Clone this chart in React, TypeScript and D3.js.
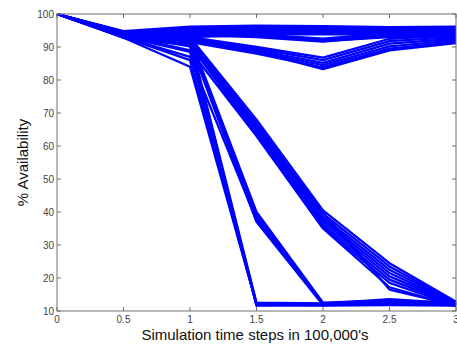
import React from 'react';
import * as d3 from 'd3';

// time points (in 100,000's of steps)
const timeSteps = [0, 0.5, 1, 1.5, 2, 2.5, 3];

const xTicks = [0, 0.5, 1, 1.5, 2, 2.5, 3];
const yTicks = [10, 20, 30, 40, 50, 60, 70, 80, 90, 100];

// runs that stay high
const flatRuns = [
  [100, 94.8, 96.2, 96.5, 96.3, 96.0, 96.2],
  [100, 94.6, 95.8, 96.0, 95.8, 95.6, 95.8],
  [100, 94.4, 95.4, 95.5, 95.4, 95.3, 95.4],
  [100, 94.2, 95.0, 95.0, 95.0, 95.0, 95.0],
  [100, 94.0, 94.6, 94.6, 94.6, 94.6, 94.5],
  [100, 93.8, 94.2, 94.4, 94.2, 94.3, 94.0],
  [100, 94.5, 93.8, 94.2, 94.0, 94.0, 93.5],
  [100, 94.3, 93.4, 93.8, 93.8, 93.8, 93.0],
  [100, 94.7, 93.0, 93.6, 94.4, 94.4, 92.5],
];

const shallowDipRuns = [
  [100, 94.5, 94.5, 93.8, 92.5, 94.2, 94.5],
  [100, 94.2, 94.0, 93.4, 92.0, 93.8, 94.2],
  [100, 94.0, 93.6, 93.0, 91.6, 93.4, 93.8],
  [100, 94.6, 94.2, 93.2, 91.8, 93.0, 93.6],
];

const deepDipRuns = [
  [100, 94.5, 93.0, 90.0, 86.8, 92.5, 93.5],
  [100, 94.3, 92.6, 89.5, 86.0, 91.8, 93.0],
  [100, 94.1, 92.2, 89.0, 85.2, 91.0, 92.5],
  [100, 93.9, 91.8, 88.5, 84.5, 90.2, 92.0],
  [100, 94.2, 91.5, 88.0, 83.8, 89.5, 91.5],
  [100, 94.0, 92.0, 88.6, 83.3, 89.0, 91.2],
];

// collapse by 1.5
const fastDropRuns = [
  [100, 94.4, 92.5, 12.5, 12.3, 12.6, 12.2],
  [100, 94.1, 91.8, 12.0, 12.0, 12.3, 12.0],
  [100, 93.8, 91.0, 11.6, 11.8, 12.0, 11.8],
  [100, 93.5, 90.2, 11.8, 11.6, 11.8, 11.6],
  [100, 93.2, 88.5, 12.2, 12.1, 12.2, 12.1],
  [100, 93.0, 86.0, 11.9, 12.0, 12.1, 11.9],
  [100, 92.8, 84.0, 12.1, 12.2, 12.4, 12.0],
];

// collapse by 2
const midDropRuns = [
  [100, 94.4, 92.8, 40.0, 12.5, 13.2, 12.5],
  [100, 94.1, 92.2, 39.0, 12.2, 13.6, 12.3],
  [100, 93.8, 91.6, 38.0, 12.0, 13.0, 12.0],
  [100, 93.5, 91.0, 37.0, 11.8, 12.6, 11.8],
  [100, 93.0, 87.0, 37.5, 12.0, 12.8, 12.2],
];

// slow decline to 3
const slowDropRuns = [
  [100, 94.6, 93.0, 68.0, 40.5, 24.5, 12.8],
  [100, 94.3, 92.6, 67.0, 39.5, 23.5, 12.5],
  [100, 94.0, 92.2, 66.2, 38.6, 22.5, 12.3],
  [100, 93.7, 91.8, 65.5, 37.8, 21.5, 12.1],
  [100, 93.4, 91.4, 64.8, 37.0, 20.5, 12.0],
  [100, 93.1, 91.0, 64.0, 36.2, 19.5, 11.8],
  [100, 92.8, 90.6, 63.3, 35.4, 18.5, 11.6],
  [100, 93.5, 89.0, 63.0, 35.0, 17.2, 11.5],
  [100, 94.5, 92.8, 66.5, 39.8, 16.5, 11.7],
];

const allRuns = [
  ...slowDropRuns,
  ...midDropRuns,
  ...fastDropRuns,
  ...deepDipRuns,
  ...shallowDipRuns,
  ...flatRuns,
];

export default function App() {
  const width = 457;
  const height = 346;
  const left = 57, right = 456, top = 14, bottom = 311;

  const x = d3.scaleLinear().domain([0, 3]).range([left, right]);
  const y = d3.scaleLinear().domain([10, 100]).range([bottom, top]);

  const line = d3.line<number>()
    .x((_, i) => x(timeSteps[i]))
    .y(d => y(d));

  const axisColor = '#6f6f6f';
  const font = 'Arial, "Liberation Sans", sans-serif';

  return (
    <svg width={width} height={height}
      style={{ position: 'absolute', left: 0, top: 0, background: 'white' }}>
      <rect x={0} y={0} width={width} height={height} fill="white" />
      <g fill="none" stroke="#0000ff" strokeWidth={2.3} strokeLinejoin="round">
        {allRuns.map((run, i) => (
          <path key={i} d={line(run) || ''} />
        ))}
      </g>
      {/* box */}
      <rect x={left} y={top} width={right - left} height={bottom - top}
        fill="none" stroke={axisColor} strokeWidth={1} />
      {xTicks.map(t => (
        <g key={'x' + t}>
          <line x1={x(t)} x2={x(t)} y1={bottom} y2={bottom - 4} stroke={axisColor} />
          <line x1={x(t)} x2={x(t)} y1={top} y2={top + 4} stroke={axisColor} />
          <text x={x(t)} y={323} textAnchor="middle" fontSize={10}
            fontFamily={font} fill="#444">{t}</text>
        </g>
      ))}
      {yTicks.map(t => (
        <g key={'y' + t}>
          <line x1={left} x2={left + 4} y1={y(t)} y2={y(t)} stroke={axisColor} />
          <line x1={right} x2={right - 4} y1={y(t)} y2={y(t)} stroke={axisColor} />
          <text x={54} y={y(t) + 3.5} textAnchor="end" fontSize={10}
            fontFamily={font} fill="#444">{t}</text>
        </g>
      ))}
      <text x={255} y={340} textAnchor="middle" fontSize={15}
        fontFamily={font} fill="#111">Simulation time steps in 100,000's</text>
      <text transform={`translate(28,${(top + bottom) / 2}) rotate(-90)`}
        textAnchor="middle" fontSize={15} fontFamily={font} fill="#111">% Availability</text>
    </svg>
  );
}
